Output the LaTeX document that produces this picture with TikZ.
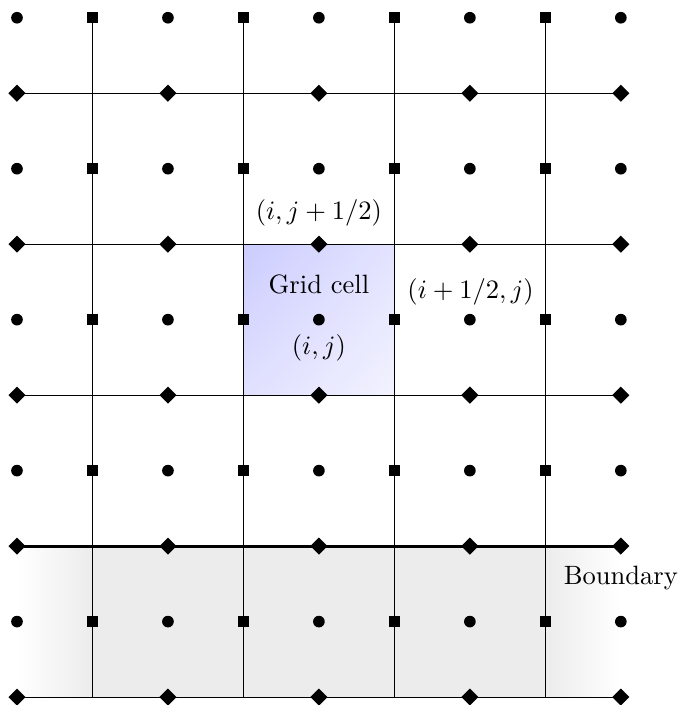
\documentclass[tikz,border=0pt]{standalone}
\usepackage{tikz}
\usetikzlibrary{shapes.geometric, positioning, shadings}
\tikzset{
  cellpt/.style  ={circle, fill=black, inner sep=0pt, minimum size=4.4pt},
  uface/.style   ={rectangle, fill=black, inner sep=0pt, minimum size=4.2pt},
  vface/.style   ={diamond, fill=black, inner sep=0pt, minimum size=6.6pt},
  gridline/.style={draw=black, thin},
  wall/.style    ={draw=black, very thick},
  tag/.style     ={inner sep=3pt}
}

\begin{document}
\begin{tikzpicture}
  \useasboundingbox (-0.225,-0.105) rectangle (8.78,9.235);

  % Boundary region
  \shade[left color=white, right color=gray!15] (0,0) rectangle (1,2);
  \fill[gray!15] (1,0) rectangle (7,2);
  \shade[left color=gray!15, right color=white] (7,0) rectangle (8,2);

  % Grid cell
  \shade[upper left=blue!20, upper right=blue!11, lower left=blue!12,
         lower right=blue!5] (3,4) rectangle (5,6);

  % Grid lines
  \foreach \x in {1,3,5,7}
    \draw[gridline] (\x,0) -- (\x,9);
  \foreach \y in {0,4,6,8}
    \draw[gridline] (0,\y) -- (8,\y);
  \draw[wall] (0,2) -- (8,2);

  % Cell centres and faces
  \foreach \x in {0,2,...,8}
    \foreach \y in {1,3,...,9}
      \node[cellpt] (c-\x-\y) at (\x,\y) {};
  \foreach \x in {1,3,5,7}
    \foreach \y in {1,3,...,9}
      \node[uface] (u-\x-\y) at (\x,\y) {};
  \foreach \x in {0,2,...,8}
    \foreach \y in {0,2,...,8}
      \node[vface] (v-\x-\y) at (\x,\y) {};

  % Labels
  \node[tag, above=0pt of v-4-6] (vlab) {$(i,j+1/2)$};
  \node[tag, above=0.14cm of c-4-5] (cell) {Grid cell};
  \node[tag, below=0pt of c-4-5] (clab) {$(i,j)$};
  \node[tag, above right=0pt and -0.02cm of u-5-5] (ulab) {$(i+1/2,j)$};
  \node[tag, below=0.03cm of v-8-2] (bnd) {Boundary};
\end{tikzpicture}
\end{document}
